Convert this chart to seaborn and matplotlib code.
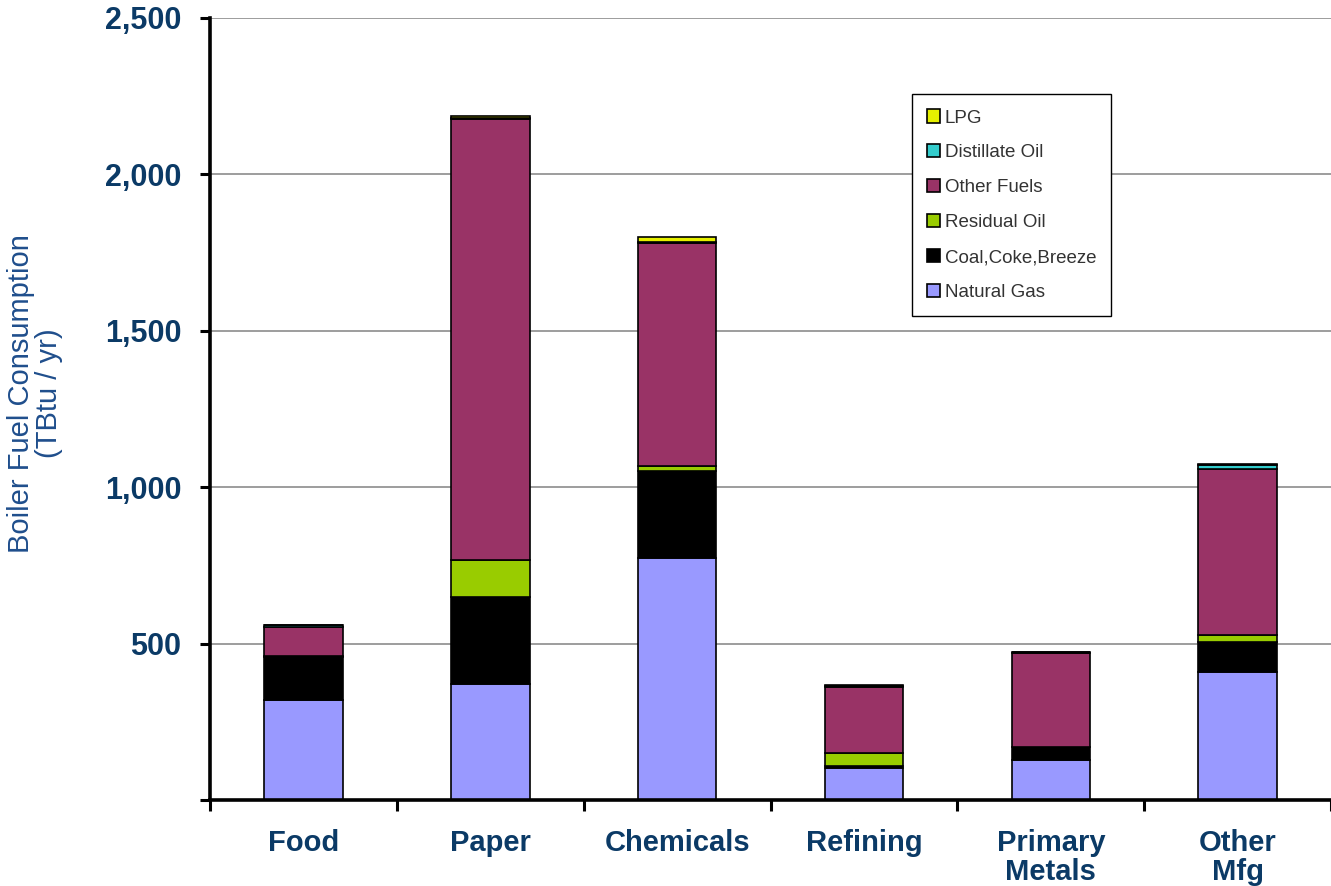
import matplotlib
matplotlib.use("Agg")
import matplotlib.pyplot as plt
import seaborn as sns
import numpy as np
from matplotlib.ticker import FuncFormatter, FixedLocator

# Industrial boiler fuel use by sector (TBtu / yr)
categories = ["Food", "Paper", "Chemicals", "Refining", "Primary\nMetals", "Other\nMfg"]

natural_gas = [320, 372, 775, 103, 128, 410]
coal_coke_breeze = [138, 278, 276, 5, 40, 95]
residual_oil = [2, 118, 17, 42, 2, 22]
other_fuels = [94, 1408, 712, 210, 300, 530]
distillate_oil = [4, 5, 4, 4, 2, 14]
lpg = [3, 4, 14, 3, 1, 4]

series_names = ["Natural Gas", "Coal,Coke,Breeze", "Residual Oil",
                "Other Fuels", "Distillate Oil", "LPG"]
series_values = [natural_gas, coal_coke_breeze, residual_oil,
                 other_fuels, distillate_oil, lpg]
series_colors = ["#9999FF", "#000000", "#99CC00", "#993366", "#33CCCC", "#E6F000"]

navy = "#0B3A66"

sns.set_theme(style="white")
plt.rcParams["font.family"] = ["Liberation Sans", "DejaVu Sans"]

fig = plt.figure(figsize=(13.31, 8.86), dpi=100)
ax = fig.add_axes([0.158, 0.097, 0.842, 0.883])

bottom = np.zeros(len(categories))
for name, vals, col in zip(series_names, series_values, series_colors):
    sns.barplot(x=categories, y=vals, bottom=bottom, color=col, ax=ax,
                width=0.42, edgecolor="black", linewidth=1.2, label=name,
                saturation=1, errorbar=None)
    bottom = bottom + np.array(vals)

ax.set_xlim(-0.5, 5.5)
ax.set_ylim(0, 2500)
ax.set_yticks([0, 500, 1000, 1500, 2000, 2500])
ax.yaxis.set_major_formatter(FuncFormatter(lambda v, p: "" if v == 0 else f"{int(v):,}"))
ax.yaxis.grid(True, color="#8C8C8C", linewidth=1.2)
ax.set_axisbelow(True)

# category labels at centres, tick marks at the category boundaries
ax.tick_params(axis="x", which="major", length=0, pad=21)
ax.xaxis.set_minor_locator(FixedLocator(np.arange(-0.5, 6.0, 1.0)))
ax.tick_params(axis="x", which="minor", direction="out", length=8, width=2.2,
               color="black", bottom=True)
ax.tick_params(axis="y", which="major", direction="out", length=7, width=2.2,
               color="black", left=True, pad=14)

for lab in ax.get_yticklabels():
    lab.set_fontweight("bold")
    lab.set_fontsize(22)
    lab.set_color(navy)
for lab in ax.get_xticklabels():
    lab.set_fontweight("bold")
    lab.set_fontsize(21)
    lab.set_color(navy)
    lab.set_linespacing(1.05)
    lab.set_verticalalignment("top")

for side in ["top", "right"]:
    ax.spines[side].set_visible(False)
for side in ["left", "bottom"]:
    ax.spines[side].set_color("black")
    ax.spines[side].set_linewidth(2.6)

ax.set_xlabel("")
ax.set_ylabel("Boiler Fuel Consumption\n(TBtu / yr)", fontsize=21, color="#1F4E8C",
              linespacing=1.0)
ax.yaxis.set_label_coords(-0.131, 0.52)

handles, labels = ax.get_legend_handles_labels()
leg = ax.legend(handles[::-1], labels[::-1], loc="upper left",
                bbox_to_anchor=(0.626, 0.902), frameon=True, fancybox=False,
                fontsize=13.5, labelcolor="#333333", handlelength=0.7,
                handleheight=0.7, handletextpad=0.25, labelspacing=0.95,
                borderpad=0.8, borderaxespad=0)
leg.get_frame().set_edgecolor("black")
leg.get_frame().set_linewidth(1.0)
leg.get_frame().set_facecolor("white")
leg.get_frame().set_alpha(1)

fig.savefig("out.png", dpi=100)
